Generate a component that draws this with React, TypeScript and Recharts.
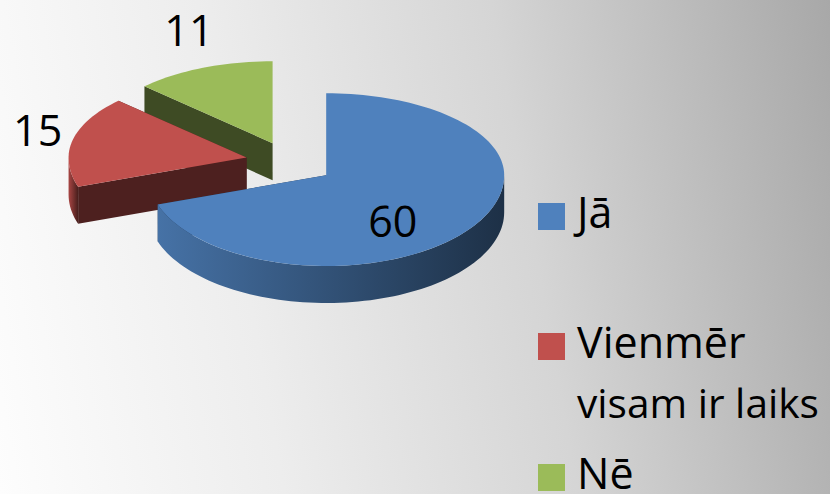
import React from 'react';
import { PieChart, Pie, Legend } from 'recharts';

// ---------- data ----------
const categories = ['Jā', 'Vienmēr visam ir laiks', 'Nē'];
const values = [60, 15, 11];

// ---------- style ----------
const PALETTE = ['#4F81BD', '#C0504D', '#9BBB59'];
const FONT = "'Open Sans', 'DejaVu Sans', sans-serif";
const W = 830;
const H = 494;
const K_TOP = 0.46; // vertical squash for the far half
const K_BOT = 0.51; // vertical squash for the near half
const DEPTH = 37;
const EXPLODE = 0.25;

// pie drawn back-to-front: reverse order, counter-clockwise from 12 o'clock
const pieData = categories
  .map((name, i) => ({ name, value: values[i], idx: i }))
  .reverse();

function darken(hex: string, t: number) {
  const n = parseInt(hex.slice(1), 16);
  const f = (v: number) => Math.round(v * (1 - t)).toString(16).padStart(2, '0');
  return '#' + f((n >> 16) & 255) + f((n >> 8) & 255) + f(n & 255);
}

function proj(cx: number, cy: number, r: number, deg: number): [number, number] {
  const a = (deg * Math.PI) / 180;
  const s = Math.sin(a);
  return [cx + r * Math.cos(a), cy - r * s * (s > 0 ? K_TOP : K_BOT)];
}

function arcPts(cx: number, cy: number, r: number, b0: number, b1: number, dy = 0) {
  const n = Math.max(2, Math.ceil(Math.abs(b1 - b0) / 2));
  const pts: [number, number][] = [];
  for (let k = 0; k <= n; k++) {
    const a = b0 + ((b1 - b0) * k) / n;
    const [x, y] = proj(cx, cy, r, a);
    pts.push([x, y + dy]);
  }
  return pts;
}

const toPath = (pts: [number, number][]) =>
  pts.map((p, k) => `${k === 0 ? 'M' : 'L'}${p[0].toFixed(2)},${p[1].toFixed(2)}`).join(' ');

function Slice3D(props: any) {
  const { cx, cy, outerRadius, startAngle, endAngle, midAngle } = props;
  const idx = props.idx ?? props.payload?.idx ?? 0;
  const color = PALETTE[idx];
  const r = outerRadius;
  const [ex, ey] = proj(cx, cy, r * EXPLODE, midAngle);
  const a0 = Math.min(startAngle, endAngle);
  const a1 = Math.max(startAngle, endAngle);

  // radial cut faces
  const faces = [a0, a1].map((e, k) => {
    const [px, py] = proj(ex, ey, r, e);
    const d = `M${ex},${ey} L${px},${py} L${px},${py + DEPTH} L${ex},${ey + DEPTH} Z`;
    return <path key={'f' + k} d={d} fill={darken(color, 0.6)} />;
  });

  // outer walls (visible near half)
  const walls: React.ReactNode[] = [];
  for (let k = -1; k <= 2; k++) {
    const lo = Math.max(a0, 180 + 360 * k);
    const hi = Math.min(a1, 360 + 360 * k);
    if (hi > lo) {
      const top = arcPts(ex, ey, r, lo, hi);
      const bot = arcPts(ex, ey, r, hi, lo, DEPTH);
      walls.push(
        <path key={'w' + k} d={toPath([...top, ...bot]) + ' Z'} fill={`url(#wall-${idx})`} />
      );
    }
  }

  const topFace = toPath([[ex, ey], ...arcPts(ex, ey, r, a0, a1)]) + ' Z';

  return (
    <g>
      <defs>
        <linearGradient id={`wall-${idx}`} x1="0" y1="0" x2="1" y2="0">
          <stop offset="0%" stopColor={darken(color, 0.12)} />
          <stop offset="100%" stopColor={darken(color, 0.63)} />
        </linearGradient>
      </defs>
      {faces}
      {walls}
      <path d={topFace} fill={color} />
    </g>
  );
}

function renderLabel(props: any) {
  const { cx, cy, midAngle, outerRadius, percent, value } = props;
  const r = outerRadius;
  const [ex, ey] = proj(cx, cy, r * EXPLODE, midAngle);
  const a = (midAngle * Math.PI) / 180;
  let x: number;
  let y: number;
  if (percent > 0.3) {
    [x, y] = proj(ex, ey, r * 0.46, midAngle);
    y += DEPTH * 0.62;
  } else {
    [x, y] = proj(ex, ey, r, midAngle);
    x += Math.cos(a) * 36;
    y -= Math.sin(a) * 40;
  }
  return (
    <text x={x} y={y + 15} textAnchor="middle" fontFamily={FONT} fontSize={43} fill="#000">
      {value}
    </text>
  );
}

function getMeasure(font: string) {
  let measure = (s: string) => s.length * 19;
  try {
    const ctx = document.createElement('canvas').getContext('2d');
    if (ctx) {
      ctx.font = font;
      measure = (s: string) => ctx.measureText(s).width;
    }
  } catch (e) {
    /* ignore */
  }
  return measure;
}

function wrapText(text: string, maxWidth: number, measure: (s: string) => number): string[] {
  const words = text.split(' ');
  const lines: string[] = [];
  let cur = '';
  for (const w of words) {
    const test = cur ? cur + ' ' + w : w;
    if (cur && measure(test) > maxWidth) {
      lines.push(cur);
      cur = w;
    } else {
      cur = test;
    }
  }
  if (cur) lines.push(cur);
  return lines;
}

const LEGEND_LEFT = 530;
const LEGEND_TOP = 190;
const ENTRY_BASELINES = [38, 168, 299];
const LINE_H = 60;
const LEGEND_FONT = 43;
const MAX_LINE = 242;

function LegendContent() {
  const measure = getMeasure(`${LEGEND_FONT}px 'Open Sans'`);
  return (
    <svg width={W - LEGEND_LEFT} height={H - LEGEND_TOP} style={{ display: 'block', overflow: 'visible' }}>
      {categories.map((name, i) => {
        const lines = wrapText(name, 262, measure);
        const base = ENTRY_BASELINES[i];
        return (
          <g key={name}>
            <rect x={8} y={base - 25} width={27} height={27} fill={PALETTE[i]} />
            {lines.map((ln, k) => {
              const w = measure(ln);
              const fs = w > MAX_LINE ? (LEGEND_FONT * MAX_LINE) / w : LEGEND_FONT;
              return (
                <text
                  key={k}
                  x={47}
                  y={base + k * LINE_H}
                  fontFamily={FONT}
                  fontSize={fs}
                  fill="#000"
                >
                  {ln}
                </text>
              );
            })}
          </g>
        );
      })}
    </svg>
  );
}

export default function App() {
  return (
    <div
      style={{
        position: 'absolute',
        left: 0,
        top: 0,
        width: W,
        height: H,
        overflow: 'hidden',
        background:
          'linear-gradient(80deg, #FDFDFD 0%, #EDEDED 31%, #D5D5D5 63%, #A8A8A8 100%)',
      }}
    >
      <PieChart width={W} height={H} margin={{ top: 0, right: 0, bottom: 0, left: 0 }}>
        <Pie
          data={pieData}
          dataKey="value"
          nameKey="name"
          cx={290}
          cy={162}
          outerRadius={178}
          startAngle={90}
          endAngle={450}
          stroke="none"
          isAnimationActive={false}
          shape={Slice3D}
          activeShape={Slice3D}
          inactiveShape={Slice3D}
          label={renderLabel}
          labelLine={false}
        />
        <Legend
          layout="vertical"
          align="right"
          verticalAlign="top"
          content={() => <LegendContent />}
          wrapperStyle={{
            position: 'absolute',
            left: LEGEND_LEFT,
            top: LEGEND_TOP,
            width: W - LEGEND_LEFT,
            height: H - LEGEND_TOP,
          }}
        />
      </PieChart>
    </div>
  );
}
